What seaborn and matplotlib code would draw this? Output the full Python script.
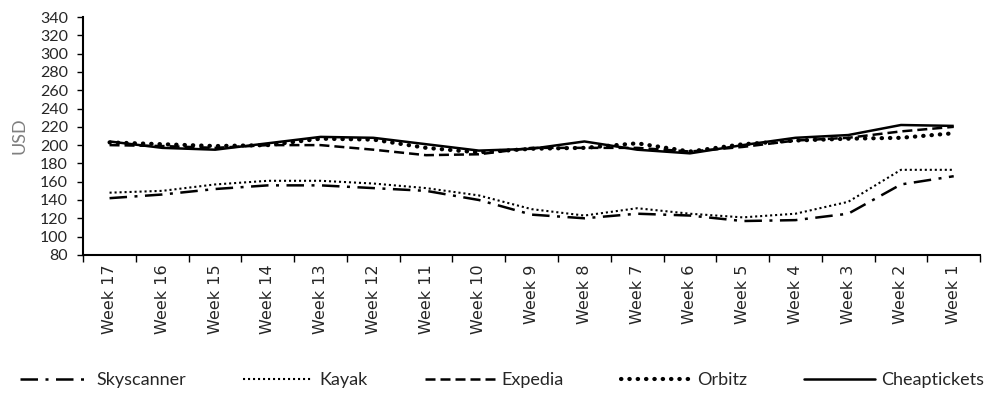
import pandas as pd
import matplotlib
matplotlib.use("Agg")
import matplotlib.pyplot as plt
from matplotlib.lines import Line2D
from matplotlib.ticker import FixedLocator, MultipleLocator
import seaborn as sns

weeks = ["Week 17", "Week 16", "Week 15", "Week 14", "Week 13", "Week 12",
         "Week 11", "Week 10", "Week 9", "Week 8", "Week 7", "Week 6",
         "Week 5", "Week 4", "Week 3", "Week 2", "Week 1"]

skyscanner = [142, 146, 152, 156, 156, 153, 150, 140, 124, 120, 125, 123, 117, 118, 125, 157, 166]
kayak = [148, 150, 157, 161, 161, 158, 153, 145, 130, 123, 131, 125, 121, 125, 138, 173, 173]
expedia = [200, 199, 197, 200, 200, 195, 189, 190, 197, 197, 197, 193, 198, 205, 208, 215, 220]
orbitz = [203, 201, 199, 200, 207, 206, 197, 192, 196, 197, 202, 193, 201, 205, 207, 208, 213]
cheaptickets = [204, 197, 195, 202, 209, 208, 201, 194, 196, 204, 195, 191, 200, 208, 211, 222, 221]

series = {
    "Skyscanner": skyscanner,
    "Kayak": kayak,
    "Expedia": expedia,
    "Orbitz": orbitz,
    "Cheaptickets": cheaptickets,
}

# line looks, excel-ish
styles = {
    "Skyscanner": dict(lw=1.8, ls=(0, (7, 3, 1.2, 3)), cap="butt"),
    "Kayak": dict(lw=1.5, ls=(0, (1, 1.4)), cap="butt"),
    "Expedia": dict(lw=1.8, ls=(0, (4, 2)), cap="butt"),
    "Orbitz": dict(lw=3.0, ls=(0, (0.1, 1.9)), cap="round"),
    "Cheaptickets": dict(lw=1.8, ls="-", cap="butt"),
}

calibri_ish = ["Lato", "DejaVu Sans"]

sns.set_style("ticks")
plt.rcParams["font.family"] = ["DejaVu Sans"]

fig = plt.figure(figsize=(9.9, 3.97), dpi=100)
ax = fig.add_axes([0.084, 0.358, 0.906, 0.599])

handles = []
for name, vals in series.items():
    df = pd.DataFrame({"week": weeks, "usd": vals})
    st = styles[name]
    sns.lineplot(data=df, x="week", y="usd", sort=False, ax=ax, color="black",
                 linewidth=st["lw"], linestyle=st["ls"], dash_capstyle=st["cap"],
                 solid_capstyle="butt")
    handles.append(Line2D([], [], color="black", linewidth=st["lw"], linestyle=st["ls"],
                          dash_capstyle=st["cap"], label=name))

ax.set_xlim(-0.5, len(weeks) - 0.5)
ax.set_ylim(80, 340)
ax.yaxis.set_major_locator(MultipleLocator(20))

ax.set_xticks(range(len(weeks)))
ax.set_xticklabels(weeks, rotation=90, fontsize=11.5, family="DejaVu Sans")
ax.tick_params(axis="x", which="major", length=0, pad=7)
ax.xaxis.set_minor_locator(FixedLocator([i - 0.5 for i in range(len(weeks) + 1)]))
ax.tick_params(axis="x", which="minor", length=5, width=1, color="black")
ax.tick_params(axis="y", length=4, width=1, labelsize=11.5, pad=7, color="black")
for lab in ax.get_yticklabels():
    lab.set_family(calibri_ish)

ax.set_xlabel("")
ax.set_ylabel("USD", fontsize=13, color="#7f7f7f", family=calibri_ish, labelpad=9)

sns.despine(ax=ax)
for side in ["left", "bottom"]:
    ax.spines[side].set_color("black")
    ax.spines[side].set_linewidth(1.5)

fig.legend(handles=handles, loc="center", bbox_to_anchor=(0.507, 0.042), ncol=5,
           frameon=False, handlelength=3.9, columnspacing=3.15, handletextpad=0.35,
           prop={"family": calibri_ish, "size": 13})

fig.savefig("out.png", dpi=100)
